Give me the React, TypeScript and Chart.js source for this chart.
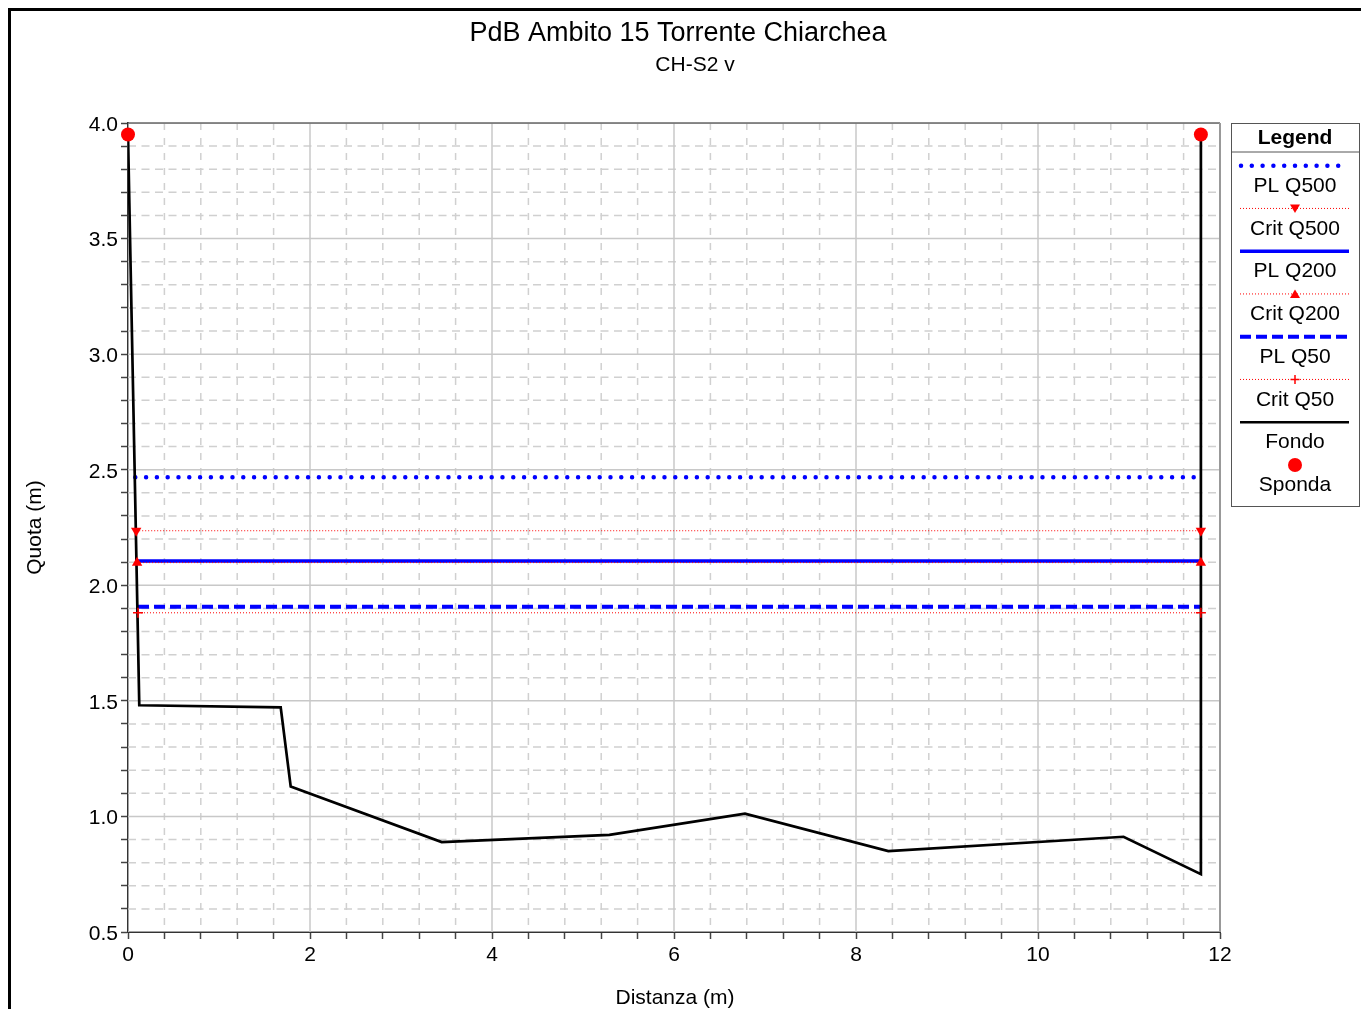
import React, { useEffect, useRef } from 'react';
import { Chart, registerables } from 'chart.js';

Chart.register(...registerables);

// ---- Data ----
const chartTitle = 'PdB Ambito 15 Torrente Chiarchea';
const chartSubtitle = 'CH-S2 v';
const xAxisTitle = 'Distanza (m)';
const yAxisTitle = 'Quota (m)';

const fondoX = [0, 0.124, 1.678, 1.788, 3.447, 5.29, 6.78, 8.355, 10.94, 11.79, 11.79];
const fondoY = [3.95, 1.481, 1.472, 1.129, 0.889, 0.92, 1.012, 0.85, 0.912, 0.75, 3.95];

const spondaX = [0, 11.79];
const spondaY = [3.95, 3.95];

const plQ500X = [0.08, 11.79];
const plQ500Y = [2.467, 2.467];
const critQ500X = [0.09, 11.79];
const critQ500Y = [2.236, 2.236];

const plQ200X = [0.1, 11.79];
const plQ200Y = [2.105, 2.105];
const critQ200X = [0.1, 11.79];
const critQ200Y = [2.098, 2.098];

const plQ50X = [0.11, 11.79];
const plQ50Y = [1.907, 1.907];
const critQ50X = [0.11, 11.79];
const critQ50Y = [1.881, 1.881];

const xMin = 0;
const xMax = 12;
const xMinorStep = 0.4;
const xMajorStep = 2;
const yMin = 0.5;
const yMax = 4.0;
const yMinorStep = 0.1;
const yMajorStep = 0.5;

const legendLabels = ['PL Q500', 'Crit Q500', 'PL Q200', 'Crit Q200', 'PL Q50', 'Crit Q50', 'Fondo', 'Sponda'];

const FONT = '"Liberation Sans", Arial, Helvetica, sans-serif';
const BLUE = '#0000ff';
const RED = '#ff0000';

const pts = (xs: number[], ys: number[]) => xs.map((x, i) => ({ x, y: ys[i] }));
const isMultiple = (v: number, step: number) => Math.abs(v / step - Math.round(v / step)) < 1e-6;

// ---- Plugins ----
const gridPlugin = {
  id: 'customGrid',
  beforeDatasetsDraw(chart: any) {
    const { ctx, chartArea, scales } = chart;
    const { left, right, top, bottom } = chartArea;
    ctx.save();
    ctx.beginPath();
    ctx.rect(left, top, right - left, bottom - top);
    ctx.clip();
    ctx.strokeStyle = '#d0d0d0';
    ctx.lineWidth = 1.5;
    ctx.setLineDash([8, 5.5]);
    scales.y.ticks.forEach((t: any) => {
      if (isMultiple(t.value - yMin, yMajorStep)) return;
      const y = scales.y.getPixelForValue(t.value);
      ctx.beginPath();
      ctx.moveTo(left, y);
      ctx.lineTo(right, y);
      ctx.stroke();
    });
    ctx.setLineDash([7, 8]);
    scales.x.ticks.forEach((t: any) => {
      if (isMultiple(t.value, xMajorStep)) return;
      const x = scales.x.getPixelForValue(t.value);
      ctx.beginPath();
      ctx.moveTo(x, top);
      ctx.lineTo(x, bottom);
      ctx.stroke();
    });
    ctx.setLineDash([]);
    ctx.strokeStyle = '#c8c8c8';
    ctx.lineWidth = 1.5;
    scales.y.ticks.forEach((t: any) => {
      if (!isMultiple(t.value - yMin, yMajorStep)) return;
      const y = scales.y.getPixelForValue(t.value);
      ctx.beginPath();
      ctx.moveTo(left, y);
      ctx.lineTo(right, y);
      ctx.stroke();
    });
    scales.x.ticks.forEach((t: any) => {
      if (!isMultiple(t.value, xMajorStep)) return;
      const x = scales.x.getPixelForValue(t.value);
      ctx.beginPath();
      ctx.moveTo(x, top);
      ctx.lineTo(x, bottom);
      ctx.stroke();
    });
    ctx.restore();
    ctx.save();
    ctx.strokeStyle = '#666666';
    ctx.lineWidth = 1.5;
    ctx.beginPath();
    ctx.moveTo(left, top);
    ctx.lineTo(right, top);
    ctx.stroke();
    ctx.strokeStyle = '#999999';
    ctx.lineWidth = 2;
    ctx.beginPath();
    ctx.moveTo(right, top);
    ctx.lineTo(right, bottom);
    ctx.stroke();
    ctx.restore();
  },
};

const textPlugin = {
  id: 'customText',
  afterDraw(chart: any) {
    const { ctx } = chart;
    ctx.save();
    ctx.fillStyle = '#000';
    ctx.textAlign = 'center';
    ctx.textBaseline = 'alphabetic';
    ctx.font = `27px ${FONT}`;
    ctx.fillText(chartTitle, 667, 29.5);
    ctx.font = `21px ${FONT}`;
    ctx.fillText(chartSubtitle, 684, 59.5);
    ctx.font = `21px ${FONT}`;
    ctx.fillText(xAxisTitle, 664, 993);
    ctx.save();
    ctx.translate(30, 516.5);
    ctx.rotate(-Math.PI / 2);
    ctx.fillText(yAxisTitle, 0, 0);
    ctx.restore();
    ctx.restore();
  },
};

const drawTriangle = (ctx: CanvasRenderingContext2D, x: number, y: number, s: number, down: boolean) => {
  ctx.beginPath();
  if (down) {
    ctx.moveTo(x - s, y - s * 0.8);
    ctx.lineTo(x + s, y - s * 0.8);
    ctx.lineTo(x, y + s * 0.9);
  } else {
    ctx.moveTo(x - s, y + s * 0.8);
    ctx.lineTo(x + s, y + s * 0.8);
    ctx.lineTo(x, y - s * 0.9);
  }
  ctx.closePath();
  ctx.fill();
};

const legendPlugin = {
  id: 'customLegend',
  afterDraw(chart: any) {
    const { ctx } = chart;
    const bx = 1220;
    const by = 112;
    const bw = 128;
    const bh = 383;
    const x1 = 1229;
    const x2 = 1338;
    const cx = 1284;
    ctx.save();
    ctx.fillStyle = '#ffffff';
    ctx.fillRect(bx, by, bw, bh);
    ctx.strokeStyle = '#555555';
    ctx.lineWidth = 1;
    ctx.strokeRect(bx + 0.5, by + 0.5, bw, bh);
    ctx.beginPath();
    ctx.moveTo(bx, 141);
    ctx.lineTo(bx + bw, 141);
    ctx.stroke();
    ctx.fillStyle = '#000';
    ctx.textAlign = 'center';
    ctx.textBaseline = 'alphabetic';
    ctx.font = `bold 21px ${FONT}`;
    ctx.fillText('Legend', cx, 132.5);

    const step = 42.75;
    legendLabels.forEach((label, i) => {
      const sy = 154.7 + i * step;
      const ty = 173.3 + i * step + 7.5;
      ctx.save();
      ctx.setLineDash([]);
      if (i === 0) {
        ctx.strokeStyle = BLUE;
        ctx.lineWidth = 4.5;
        ctx.lineCap = 'round';
        ctx.setLineDash([0, 10.8]);
        ctx.beginPath();
        ctx.moveTo(x1 + 1, sy);
        ctx.lineTo(x2, sy);
        ctx.stroke();
      } else if (i === 2) {
        ctx.strokeStyle = BLUE;
        ctx.lineWidth = 3.5;
        ctx.beginPath();
        ctx.moveTo(x1, sy);
        ctx.lineTo(x2, sy);
        ctx.stroke();
      } else if (i === 4) {
        ctx.strokeStyle = BLUE;
        ctx.lineWidth = 4;
        ctx.setLineDash([11, 5]);
        ctx.beginPath();
        ctx.moveTo(x1, sy);
        ctx.lineTo(x2, sy);
        ctx.stroke();
      } else if (i === 1 || i === 3 || i === 5) {
        ctx.strokeStyle = RED;
        ctx.lineWidth = 1;
        ctx.setLineDash([1, 2]);
        ctx.beginPath();
        ctx.moveTo(x1, sy);
        ctx.lineTo(x2, sy);
        ctx.stroke();
        ctx.setLineDash([]);
        ctx.fillStyle = RED;
        if (i === 1) drawTriangle(ctx, cx, sy, 5, true);
        if (i === 3) drawTriangle(ctx, cx, sy, 5, false);
        if (i === 5) {
          ctx.lineWidth = 1.5;
          ctx.beginPath();
          ctx.moveTo(cx - 4.5, sy);
          ctx.lineTo(cx + 4.5, sy);
          ctx.moveTo(cx, sy - 4.5);
          ctx.lineTo(cx, sy + 4.5);
          ctx.stroke();
        }
      } else if (i === 6) {
        ctx.strokeStyle = '#000';
        ctx.lineWidth = 2.5;
        ctx.beginPath();
        ctx.moveTo(x1, sy);
        ctx.lineTo(x2, sy);
        ctx.stroke();
      } else if (i === 7) {
        ctx.fillStyle = RED;
        ctx.beginPath();
        ctx.arc(cx, sy, 7, 0, Math.PI * 2);
        ctx.fill();
      }
      ctx.restore();
      ctx.fillStyle = '#000';
      ctx.font = `21px ${FONT}`;
      ctx.fillText(label, cx, ty);
    });
    ctx.restore();
  },
};

export default function App() {
  const canvasRef = useRef<HTMLCanvasElement | null>(null);

  useEffect(() => {
    if (!canvasRef.current) return;
    const critLine = (label: string, xs: number[], ys: number[], style: any, rotation: number, order: number) => ({
      label,
      data: pts(xs, ys),
      borderColor: RED,
      backgroundColor: RED,
      borderWidth: 1,
      borderDash: [1, 2],
      pointStyle: style,
      pointRotation: rotation,
      pointRadius: style === 'cross' ? 5 : 6,
      pointBorderWidth: style === 'cross' ? 1.5 : 0,
      pointBorderColor: RED,
      pointBackgroundColor: RED,
      fill: false,
      tension: 0,
      clip: false,
      order,
    });

    const chart = new Chart(canvasRef.current, {
      type: 'line',
      data: {
        datasets: [
          {
            label: 'Sponda',
            data: pts(spondaX, spondaY),
            showLine: false,
            pointRadius: 7,
            pointBackgroundColor: RED,
            pointBorderColor: RED,
            pointBorderWidth: 0,
            clip: false,
            order: 0,
          } as any,
          critLine('Crit Q500', critQ500X, critQ500Y, 'triangle', 180, 1),
          critLine('Crit Q200', critQ200X, critQ200Y, 'triangle', 0, 2),
          critLine('Crit Q50', critQ50X, critQ50Y, 'cross', 0, 3),
          {
            label: 'Fondo',
            data: pts(fondoX, fondoY),
            borderColor: '#000000',
            borderWidth: 2.7,
            pointRadius: 0,
            fill: false,
            tension: 0,
            order: 4,
          },
          {
            label: 'PL Q500',
            data: pts(plQ500X, plQ500Y),
            borderColor: BLUE,
            borderWidth: 4.5,
            borderCapStyle: 'round',
            borderDash: [0, 10.8],
            pointRadius: 0,
            fill: false,
            order: 5,
          },
          {
            label: 'PL Q200',
            data: pts(plQ200X, plQ200Y),
            borderColor: BLUE,
            borderWidth: 3.5,
            pointRadius: 0,
            fill: false,
            order: 6,
          },
          {
            label: 'PL Q50',
            data: pts(plQ50X, plQ50Y),
            borderColor: BLUE,
            borderWidth: 4,
            borderDash: [11, 5],
            pointRadius: 0,
            fill: false,
            order: 7,
          },
        ] as any,
      },
      options: {
        animation: false,
        responsive: false,
        layout: { padding: { top: 112, right: 141, left: 0, bottom: 0 } },
        plugins: {
          legend: { display: false },
          title: { display: false },
          tooltip: { enabled: false },
        },
        scales: {
          x: {
            type: 'linear',
            min: xMin,
            max: xMax,
            afterFit: (s: any) => {
              s.height = 77;
            },
            border: { display: true, color: '#333333', width: 2 },
            grid: {
              drawOnChartArea: false,
              drawTicks: true,
              tickLength: 7,
              tickColor: '#444444',
              tickWidth: 1.5,
            },
            ticks: {
              stepSize: xMinorStep,
              autoSkip: false,
              maxRotation: 0,
              minRotation: 0,
              padding: 4,
              color: '#000',
              font: { family: FONT, size: 21 },
              callback: (v: any) => (isMultiple(Number(v), xMajorStep) ? String(Math.round(Number(v))) : ''),
            },
          },
          y: {
            type: 'linear',
            min: yMin,
            max: yMax,
            afterFit: (s: any) => {
              s.width = 117;
            },
            border: { display: true, color: '#333333', width: 2 },
            grid: {
              drawOnChartArea: false,
              drawTicks: true,
              tickLength: 7,
              tickColor: '#444444',
              tickWidth: 1.5,
            },
            ticks: {
              stepSize: yMinorStep,
              autoSkip: false,
              padding: 3,
              labelOffset: 2,
              color: '#000',
              font: { family: FONT, size: 21 },
              callback: (v: any) => (isMultiple(Number(v) - yMin, yMajorStep) ? Number(v).toFixed(1) : ''),
            },
          },
        },
      } as any,
      plugins: [gridPlugin, textPlugin, legendPlugin],
    });
    return () => chart.destroy();
  }, []);

  return (
    <div
      style={{
        position: 'fixed',
        left: 8,
        top: 8,
        width: 1353,
        height: 1001,
        boxSizing: 'border-box',
        borderTop: '3px solid #000',
        borderLeft: '3px solid #000',
        background: '#fff',
        overflow: 'hidden',
      }}
    >
      <canvas ref={canvasRef} width={1350} height={998} style={{ display: 'block' }} />
    </div>
  );
}
